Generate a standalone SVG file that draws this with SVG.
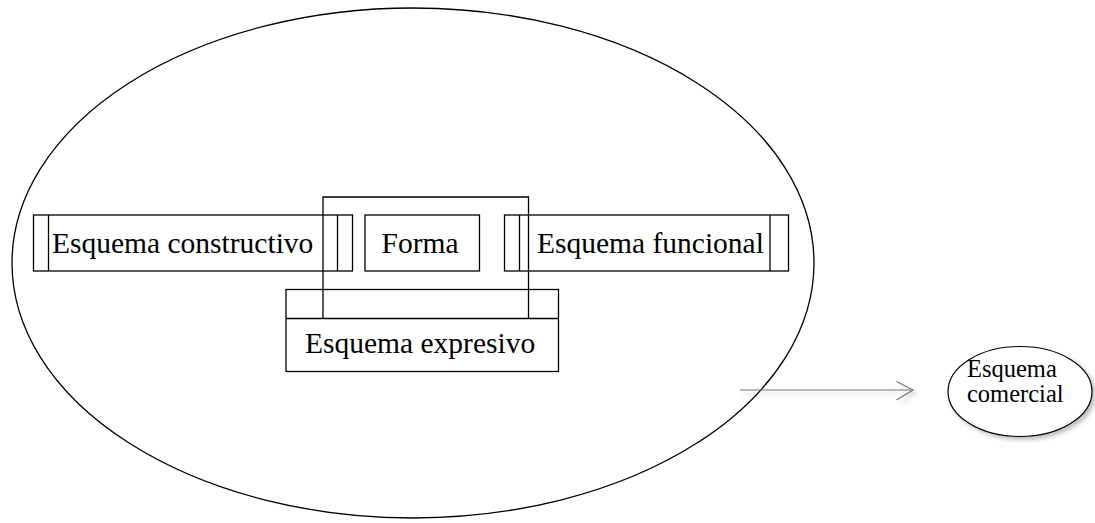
<svg xmlns="http://www.w3.org/2000/svg" width="1095" height="523" viewBox="0 0 1095 523">
<style>
.box{fill:#fff;stroke:#000;stroke-width:1.3}
.ln{fill:none;stroke:#000;stroke-width:1.3}
</style>
<defs>
<filter id="sh" x="-20%" y="-20%" width="150%" height="150%">
<feDropShadow dx="3" dy="3" stdDeviation="2" flood-color="#000" flood-opacity="0.25"/>
</filter>
</defs>
<rect width="1095" height="523" fill="#fff"/>
<g id="outer">
<ellipse cx="413" cy="263" rx="401" ry="255" fill="none" stroke="#000" stroke-width="1.3"/>
</g>
<g id="constructivo">
<rect class="box" x="33.5" y="215" width="319" height="56"/>
<line class="ln" x1="48.5" y1="215" x2="48.5" y2="271"/>
<line class="ln" x1="337.5" y1="215" x2="337.5" y2="271"/>
<text font-family="Liberation Serif" font-size="29.5" x="52" y="253">Esquema constructivo</text>
</g>
<g id="forma">
<rect class="box" x="365" y="215" width="114.5" height="56"/>
<text font-family="Liberation Serif" font-size="29.5" x="381.5" y="253">Forma</text>
</g>
<g id="funcional">
<rect class="box" x="504.5" y="215" width="284" height="56"/>
<line class="ln" x1="519.5" y1="215" x2="519.5" y2="271"/>
<line class="ln" x1="770" y1="215" x2="770" y2="271"/>
<text font-family="Liberation Serif" font-size="29.5" x="537" y="253">Esquema funcional</text>
</g>
<g id="expresivo">
<rect class="box" x="286" y="289.5" width="272.5" height="82"/>
<line class="ln" x1="286" y1="318.5" x2="558.5" y2="318.5"/>
<text font-family="Liberation Serif" font-size="29.5" x="305" y="353">Esquema expresivo</text>
</g>
<g id="connectors">
<polyline class="ln" points="323,318.5 323,197 528.5,197 528.5,318.5"/>
<g filter="url(#sh)">
<line x1="740" y1="390" x2="913" y2="390" stroke="#777" stroke-width="1.2"/>
<polyline points="896.5,381.5 913,390 896.5,400" fill="none" stroke="#777" stroke-width="1.2"/>
</g>
</g>
<g id="comercial">
<ellipse cx="1020" cy="391.5" rx="72" ry="45" fill="#fff" stroke="#000" stroke-width="1.2" filter="url(#sh)"/>
<text font-family="Liberation Serif" font-size="24.5" x="967" y="377">Esquema</text>
<text font-family="Liberation Serif" font-size="24.5" x="967" y="402">comercial</text>
</g>
</svg>
